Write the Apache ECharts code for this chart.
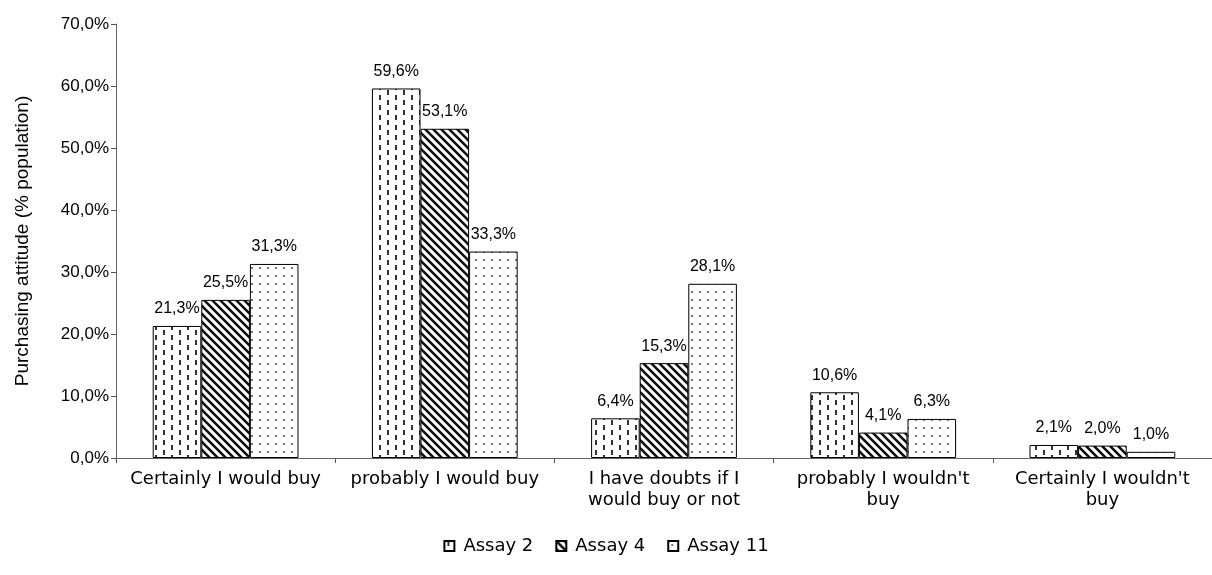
<!DOCTYPE html>
<html>
<head>
<meta charset="utf-8">
<script src="https://cdn.jsdelivr.net/npm/echarts@6/dist/echarts.min.js"></script>
<style>
html,body{margin:0;padding:0;background:#fff;}
#chart{width:1212px;height:575px;}
</style>
</head>
<body>
<div id="chart"></div>
<script>
const categories = [
  "Certainly I would buy",
  "probably I would buy",
  "I have doubts if I\nwould buy or not",
  "probably I wouldn't\nbuy",
  "Certainly I wouldn't\nbuy"
];
const seriesNames = ["Assay 2", "Assay 4", "Assay 11"];
const assay2 = [21.3, 59.6, 6.4, 10.6, 2.1];
const assay4 = [25.5, 53.1, 15.3, 4.1, 2.0];
const assay11 = [31.3, 33.3, 28.1, 6.3, 1.0];
const yTicks = [0, 10, 20, 30, 40, 50, 60, 70];

function makeTile(w, h, draw) {
  const c = document.createElement('canvas');
  c.width = w; c.height = h;
  const ctx = c.getContext('2d');
  ctx.fillStyle = '#fff';
  ctx.fillRect(0, 0, w, h);
  draw(ctx);
  return c;
}
const dashTile = makeTile(16, 10, ctx => {
  ctx.fillStyle = '#333';
  ctx.fillRect(3, 0, 2, 5);
  ctx.fillRect(11, 5, 2, 5);
});
const stripeTile = makeTile(8, 8, ctx => {
  ctx.strokeStyle = '#111';
  ctx.lineWidth = 2.6;
  ctx.beginPath();
  for (let k = -8; k <= 8; k += 8) {
    ctx.moveTo(k - 1, -1);
    ctx.lineTo(k + 9, 9);
  }
  ctx.stroke();
});
const dotTile = makeTile(8, 8, ctx => {
  ctx.fillStyle = '#777';
  ctx.fillRect(3, 3, 2, 2);
});
const patterns = [dashTile, stripeTile, dotTile].map(t => ({ image: t, repeat: 'repeat' }));
const dataSets = [assay2, assay4, assay11];

const fmt = v => v.toFixed(1).replace('.', ',') + '%';

const chart = echarts.init(document.getElementById('chart'), null, { renderer: 'canvas' });
chart.setOption({
  animation: false,
  backgroundColor: '#fff',
  textStyle: { fontFamily: '"Liberation Sans", Arial, sans-serif', color: '#000' },
  grid: { left: 116, right: -8, top: 24, bottom: 117, containLabel: false },
  legend: {
    bottom: 15,
    left: 'center',
    icon: 'rect',
    itemWidth: 10,
    itemHeight: 10,
    itemGap: 22,
    textStyle: { fontSize: 18, fontFamily: '"DejaVu Sans", sans-serif', color: '#000', padding: [0, 0, 0, 4] },
    data: seriesNames
  },
  xAxis: {
    type: 'category',
    data: categories,
    axisLine: { lineStyle: { color: '#666', width: 1 } },
    axisTick: { show: true, length: 5, lineStyle: { color: '#555' } },
    axisLabel: { interval: 0, margin: 11, fontSize: 18, lineHeight: 21, color: '#000', fontFamily: '"DejaVu Sans", sans-serif' }
  },
  yAxis: {
    type: 'value',
    min: yTicks[0],
    max: yTicks[yTicks.length - 1],
    interval: 10,
    name: 'Purchasing attitude (% population)',
    nameLocation: 'middle',
    nameGap: 84,
    nameTextStyle: { fontSize: 19, color: '#000' },
    splitLine: { show: false },
    axisLine: { show: true, lineStyle: { color: '#666', width: 1 } },
    axisTick: { show: true, length: 5, lineStyle: { color: '#555' } },
    axisLabel: { fontSize: 17, color: '#000', margin: 7, formatter: fmt }
  },
  series: dataSets.map((d, i) => ({
    name: seriesNames[i],
    type: 'bar',
    data: d,
    barGap: '0%',
    barCategoryGap: '33.5%',
    itemStyle: { color: patterns[i], borderColor: '#000', borderWidth: 1 },
    label: {
      show: true,
      position: 'top',
      distance: 9,
      fontSize: 16,
      color: '#000',
      formatter: p => fmt(p.value)
    }
  }))
});
</script>
</body>
</html>
